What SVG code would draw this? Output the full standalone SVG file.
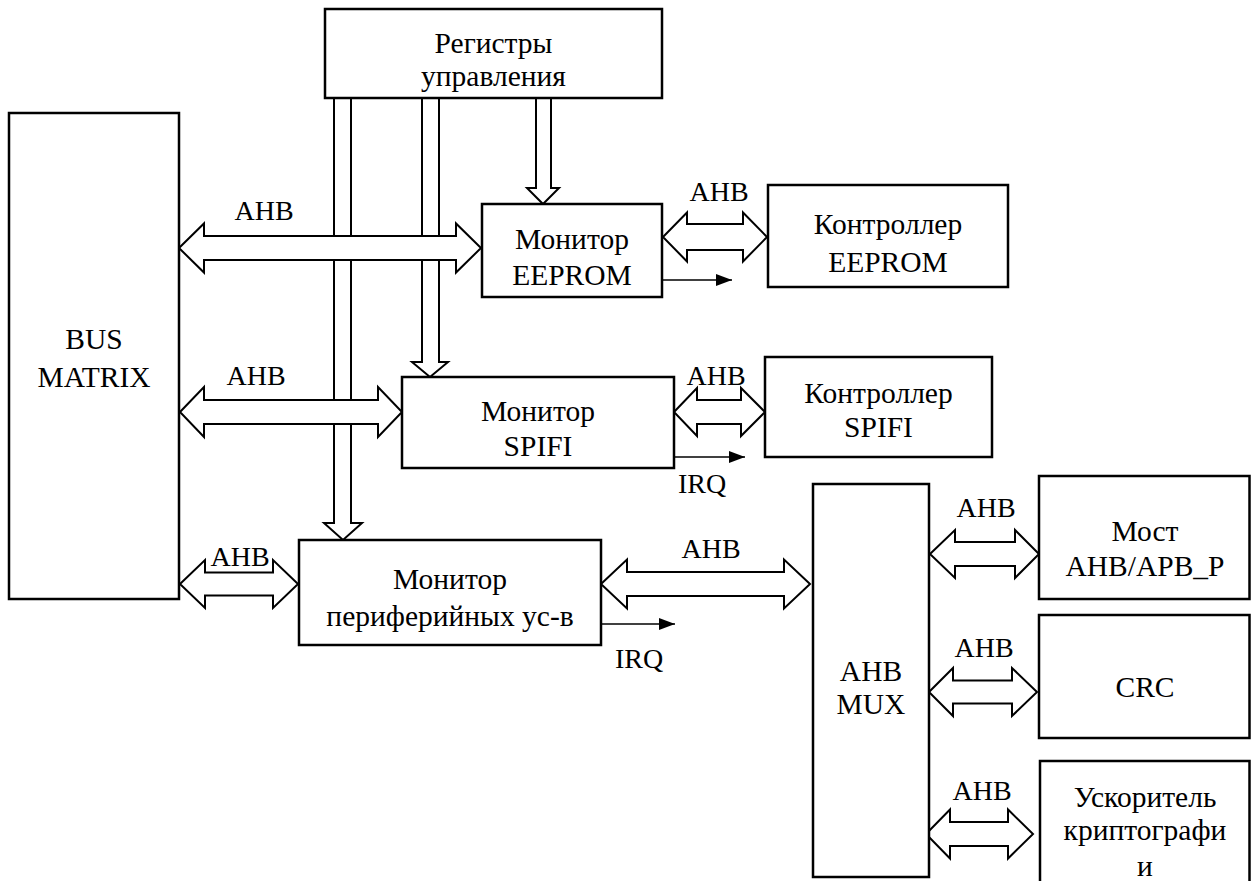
<svg xmlns="http://www.w3.org/2000/svg" width="1251" height="881" viewBox="0 0 1251 881">
<style>
.box{fill:#fff;stroke:#000;stroke-width:2.5}
.big{fill:#fff;stroke:#000;stroke-width:2;stroke-linejoin:miter}
.irq{stroke:#000;stroke-width:1.6;fill:none}
text{font-family:"Liberation Serif","Times New Roman","DejaVu Serif",serif;font-size:29.5px;fill:#000;text-anchor:middle}
text.lbl{font-size:28px}
</style>
<defs>
<marker id="ah" markerUnits="userSpaceOnUse" markerWidth="16" markerHeight="12" refX="16" refY="6" orient="auto">
<path d="M0,0 L16,6 L0,12 Z" fill="#000"/>
</marker>
</defs>
<rect width="1251" height="881" fill="#fff"/>
<g id="connectors">
<path class="big" d="M334,98 V523 H324 L343,540 L362,523 H351 V98"/>
<path class="big" d="M422,97 H439 V362 H448 L430,377 L412,362 H422 Z"/>
<path class="big" d="M536,98 V188 H527 L543,204 L559,188 H551 V98"/>
<path class="big" d="M179,248 L204,223.5 V236 H456 V223.5 L481,248 L456,272.5 V260 H204 V272.5 Z"/>
<path class="big" d="M663,237 L687,212.5 V224 H743 V212.5 L767,237 L743,261.5 V250 H687 V261.5 Z"/>
<path class="big" d="M180,412 L204,387 V400 H378 V387 L402,412 L378,437 V424 H204 V437 Z"/>
<path class="big" d="M674,412 L697,388 V400 H741 V388 L765,412 L741,436 V424 H697 V436 Z"/>
<path class="big" d="M180,584 L205,560 V572.5 H273 V560 L298,584 L273,608 V595.5 H205 V608 Z"/>
<path class="big" d="M601,584 L627,559.5 V572 H784 V559.5 L810,584 L784,608.5 V596 H627 V608.5 Z"/>
<path class="big" d="M930,554 L955,530 V542 H1015 V530 L1039,554 L1015,578 V566 H955 V578 Z"/>
<path class="big" d="M929,692 L953,668 V680.5 H1012 V668 L1037,692 L1012,716 V703.5 H953 V716 Z"/>
<path class="big" d="M926,834 L950,809.5 V822 H1008 V809.5 L1033,834 L1008,858.5 V846 H950 V858.5 Z"/>
<line class="irq" x1="663" y1="280" x2="732" y2="280" marker-end="url(#ah)"/>
<line class="irq" x1="674" y1="457" x2="745" y2="457" marker-end="url(#ah)"/>
<line class="irq" x1="601" y1="624" x2="675" y2="624" marker-end="url(#ah)"/>
<text class="lbl" x="264" y="220">AHB</text>
<text class="lbl" x="719" y="201">AHB</text>
<text class="lbl" x="256" y="385">AHB</text>
<text class="lbl" x="716" y="385">AHB</text>
<text class="lbl" x="702" y="493">IRQ</text>
<text class="lbl" x="240" y="566">AHB</text>
<text class="lbl" x="711" y="558">AHB</text>
<text class="lbl" x="639" y="668">IRQ</text>
<text class="lbl" x="986" y="517">AHB</text>
<text class="lbl" x="984" y="657">AHB</text>
<text class="lbl" x="982" y="800">AHB</text>
</g>
<g id="registers">
<rect class="box" x="325" y="9" width="337" height="89"/>
<text x="493.5" y="53">Регистры</text>
<text x="493.5" y="86">управления</text>
</g>
<g id="bus-matrix">
<rect class="box" x="9" y="113" width="170" height="486"/>
<text x="94" y="349">BUS</text>
<text x="94" y="387">MATRIX</text>
</g>
<g id="monitor-eeprom">
<rect class="box" x="482" y="204" width="180" height="93"/>
<text x="572" y="249">Монитор</text>
<text x="572" y="285">EEPROM</text>
</g>
<g id="controller-eeprom">
<rect class="box" x="768" y="185" width="240" height="102"/>
<text x="888" y="234">Контроллер</text>
<text x="888" y="272">EEPROM</text>
</g>
<g id="monitor-spifi">
<rect class="box" x="402" y="377" width="272" height="91"/>
<text x="538" y="421">Монитор</text>
<text x="538" y="456">SPIFI</text>
</g>
<g id="controller-spifi">
<rect class="box" x="765" y="357" width="227" height="100"/>
<text x="878.5" y="403">Контроллер</text>
<text x="878.5" y="437">SPIFI</text>
</g>
<g id="monitor-periph">
<rect class="box" x="299" y="540" width="302" height="105"/>
<text x="450" y="589">Монитор</text>
<text x="450" y="626">периферийных ус-в</text>
</g>
<g id="ahb-mux">
<rect class="box" x="813" y="484" width="116" height="393"/>
<text x="871" y="681">AHB</text>
<text x="871" y="714">MUX</text>
</g>
<g id="bridge">
<rect class="box" x="1039" y="476" width="210.5" height="123"/>
<text x="1145" y="541">Мост</text>
<text x="1145" y="576">AHB/APB_P</text>
</g>
<g id="crc">
<rect class="box" x="1039" y="615" width="210.5" height="123"/>
<text x="1145" y="697">CRC</text>
</g>
<g id="crypto">
<rect class="box" x="1040" y="761" width="209.5" height="140"/>
<text x="1145" y="807">Ускоритель</text>
<text x="1145" y="840">криптографи</text>
<text x="1145" y="876">и</text>
</g>
</svg>
